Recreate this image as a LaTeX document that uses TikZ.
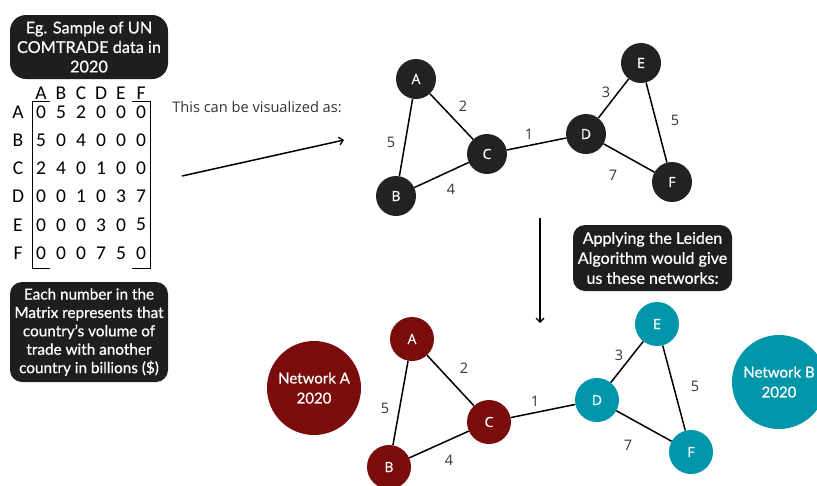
\documentclass[tikz,border=0pt]{standalone}
\usepackage{fontspec}
\setmainfont{Lato}
\newfontfamily\osans{Open Sans}
\newfontfamily\boxfont{Lato}[FakeBold=0.6]
\newfontfamily\vtxfont{Open Sans}[FakeBold=0.4]
\newfontfamily\mtx{Carlito}
\usetikzlibrary{arrows.meta}
\definecolor{boxblack}{HTML}{1E1E1E}
\definecolor{nodeblack}{HTML}{222222}
\definecolor{netred}{HTML}{7A0C0C}
\definecolor{netteal}{HTML}{0096A9}
\definecolor{labgray}{HTML}{333333}
\tikzset{
  infobox/.style={fill=boxblack, text=white, align=center, inner sep=0pt},
  vtx/.style={circle, inner sep=0pt, minimum size=40pt, fill=nodeblack, text=white, font=\vtxfont\fontsize{14}{16}\selectfont},
  vtxred/.style={vtx, minimum size=44pt, fill=netred},
  vtxteal/.style={vtx, minimum size=44pt, fill=netteal},
  netlabel/.style={circle, inner sep=0pt, minimum size=94pt, text=white, align=center, font=\boxfont\fontsize{15}{20}\selectfont},
  link/.style={draw=black, line width=1.5pt},
  wlab/.style={text=labgray, inner sep=0pt, font=\osans\fontsize{14.5}{16}\selectfont},
  mcell/.style={inner sep=0pt, font=\mtx\fontsize{19.5}{20}\selectfont},
  pointer/.style={draw=black, line width=1.5pt, -{Straight Barb[length=4pt,width=8pt,line width=1.3pt]}},
}
\begin{document}
\begin{tikzpicture}[x=1pt,y=-1pt]
\useasboundingbox (0,0) rectangle (817,485);

% --- info boxes ---
\node[infobox, rounded corners=16pt, minimum width=158pt, minimum height=64pt,
      font=\boxfont\fontsize{16.3}{19.5}\selectfont] (title) at (89,47)
      {Eg. Sample of UN\\COMTRADE data in\\2020};
\node[infobox, rounded corners=12pt, minimum width=158pt, minimum height=100pt,
      font=\boxfont\fontsize{15.3}{18.4}\selectfont] (note) at (89,332)
      {Each number in the\\Matrix represents that\\country’s volume of\\trade with another\\country in billions (\$)};
\node[infobox, rounded corners=12pt, minimum width=159pt, minimum height=66pt,
      font=\boxfont\fontsize{16}{20}\selectfont] (leiden) at (652.5,258)
      {Applying the Leiden\\Algorithm would give\\us these networks:};

% --- adjacency matrix ---
\foreach \c [count=\i from 0] in {A,B,C,D,E,F}{
  \node[mcell] (h\c) at (41+20*\i,93) {\c};
  \node[mcell] (r\c) at (18,112+28.2*\i) {\c};
}
\foreach \row [count=\j from 0] in {{0,5,2,0,0,0},{5,0,4,0,0,0},{2,4,0,1,0,0},{0,0,1,0,3,7},{0,0,0,3,0,5},{0,0,0,7,5,0}}{
  \foreach \v [count=\i from 0] in \row {
    \node[mcell] (m\j\i) at (41+20*\i,112+28.2*\j) {\v};
  }
}
\draw[line width=1pt] (50,101) -- (32,101) -- (32,268) -- (50,268);
\draw[line width=1pt] (132,101) -- (150,101) -- (150,268) -- (132,268);

% --- caption and arrow to the graph ---
\node[text=labgray, inner sep=0pt, font=\osans\fontsize{14.6}{17}\selectfont] (cap) at (257,107) {This can be visualized as:};
\coordinate (arrA) at (182,176);
\coordinate (arrB) at (344,140);
\draw[pointer] (arrA) -- (arrB);

% --- trade graph ---
\node[vtx] (A) at (416,79) {A};
\node[vtx] (B) at (396,196) {B};
\node[vtx] (C) at (487,154) {C};
\node[vtx] (D) at (586,134) {D};
\node[vtx] (E) at (641,63) {E};
\node[vtx] (F) at (672,182) {F};
\draw[link] (A) -- (B);
\draw[link] (A) -- (C);
\draw[link] (B) -- (C);
\draw[link] (C) -- (D);
\draw[link] (D) -- (E);
\draw[link] (D) -- (F);
\draw[link] (E) -- (F);
\node[wlab] (wAC) at (463,106) {2};
\node[wlab] (wAB) at (391,142) {5};
\node[wlab] (wBC) at (451,189) {4};
\node[wlab] (wCD) at (529,134) {1};
\node[wlab] (wDE) at (606,92) {3};
\node[wlab] (wEF) at (675,120) {5};
\node[wlab] (wDF) at (613,175) {7};

% --- arrow down to the communities ---
\coordinate (dnA) at (540,218);
\coordinate (dnB) at (540,323);
\draw[pointer] (dnA) -- (dnB);

% --- communities found by Leiden ---
\node[netlabel, fill=netred] (netA) at (314,388) {Network A\\2020};
\node[netlabel, fill=netteal] (netB) at (779,382) {Network B\\2020};
\node[vtxred] (A2) at (412,339) {A};
\node[vtxred] (B2) at (389,467) {B};
\node[vtxred] (C2) at (489,422) {C};
\node[vtxteal] (D2) at (597,400) {D};
\node[vtxteal] (E2) at (657,324) {E};
\node[vtxteal] (F2) at (691,452) {F};
\draw[link] (A2) -- (B2);
\draw[link] (A2) -- (C2);
\draw[link] (B2) -- (C2);
\draw[link] (C2) -- (D2);
\draw[link] (D2) -- (E2);
\draw[link] (D2) -- (F2);
\draw[link] (E2) -- (F2);
\node[wlab] (vAC) at (464,368) {2};
\node[wlab] (vAB) at (385,408) {5};
\node[wlab] (vBC) at (449,460) {4};
\node[wlab] (vCD) at (535,401) {1};
\node[wlab] (vDE) at (619,355) {3};
\node[wlab] (vEF) at (695,386) {5};
\node[wlab] (vDF) at (628,445) {7};
\end{tikzpicture}
\end{document}
